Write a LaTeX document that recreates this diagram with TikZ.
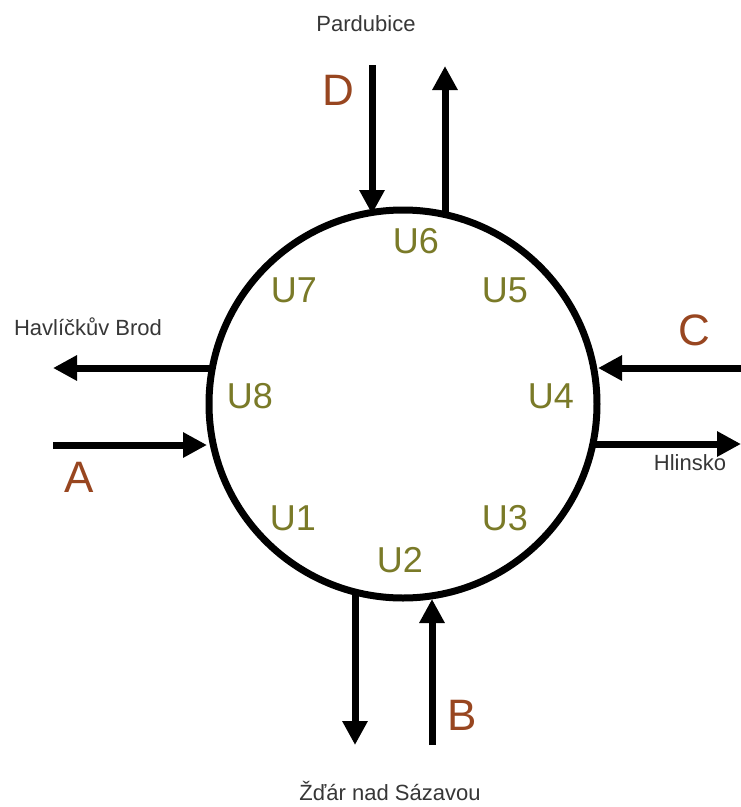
\documentclass[tikz,border=0pt]{standalone}
\usepackage{fontspec}
\setmainfont{Liberation Sans}
\usetikzlibrary{arrows.meta}

\definecolor{zonecol}{RGB}{122,122,40}
\definecolor{armcol}{RGB}{152,70,32}
\definecolor{citycol}{RGB}{55,55,55}

\tikzset{
  flow/.style={line width=7pt, -{Triangle[length=24pt,width=24pt]}},
  zone/.style={text=zonecol, anchor=base, inner sep=0pt, font=\fontsize{36}{36}\selectfont},
  arm/.style={text=armcol, anchor=base, inner sep=0pt, font=\fontsize{44}{44}\selectfont},
  city/.style={text=citycol, anchor=base, inner sep=0pt, font=\fontsize{22}{22}\selectfont},
}

\begin{document}
\begin{tikzpicture}[x=1pt, y=-1pt]
  \useasboundingbox[fill=white] (0,0) rectangle (741,807);

  % the roundabout
  \node[draw, circle, line width=7pt, minimum size=388pt, inner sep=0pt] (ring) at (403,404) {};

  % ends of the approach and exit arms
  \coordinate (dStart) at (372,65);   \coordinate (dEnd) at (372,214);
  \coordinate (nStart) at (445,216);  \coordinate (nEnd) at (445,66);
  \coordinate (wStart) at (212,368);  \coordinate (wEnd) at (53,368);
  \coordinate (aStart) at (53,445);   \coordinate (aEnd) at (207,445);
  \coordinate (cStart) at (741,368);  \coordinate (cEnd) at (598,368);
  \coordinate (eStart) at (593,444);  \coordinate (eEnd) at (741,444);
  \coordinate (sStart) at (355,592);  \coordinate (sEnd) at (355,745);
  \coordinate (bStart) at (432,745);  \coordinate (bEnd) at (432,599);

  \draw[flow] (dStart) -- (dEnd);
  \draw[flow] (nStart) -- (nEnd);
  \draw[flow] (wStart) -- (wEnd);
  \draw[flow] (aStart) -- (aEnd);
  \draw[flow] (cStart) -- (cEnd);
  \draw[flow] (eStart) -- (eEnd);
  \draw[flow] (sStart) -- (sEnd);
  \draw[flow] (bStart) -- (bEnd);

  % zones around the ring
  \node[zone] (u6) at (416,253) {U6};
  \node[zone] (u7) at (294,302) {U7};
  \node[zone] (u5) at (505,302) {U5};
  \node[zone] (u8) at (250,408) {U8};
  \node[zone] (u4) at (551,408) {U4};
  \node[zone] (u1) at (293,530) {U1};
  \node[zone] (u3) at (505,530) {U3};
  \node[zone] (u2) at (400,572) {U2};

  % arm letters
  \node[arm] (lD) at (338,105) {D};
  \node[arm] (lA) at (79,492) {A};
  \node[arm] (lC) at (694,345) {C};
  \node[arm] (lB) at (462,730) {B};

  % destinations
  \node[city] (pard) at (366,31) {Pardubice};
  \node[city] (hb) at (88,335) {Havlíčkův Brod};
  \node[city] (hl) at (690,470) {Hlinsko};
  \node[city] (zr) at (390,800) {Žďár nad Sázavou};
\end{tikzpicture}
\end{document}
